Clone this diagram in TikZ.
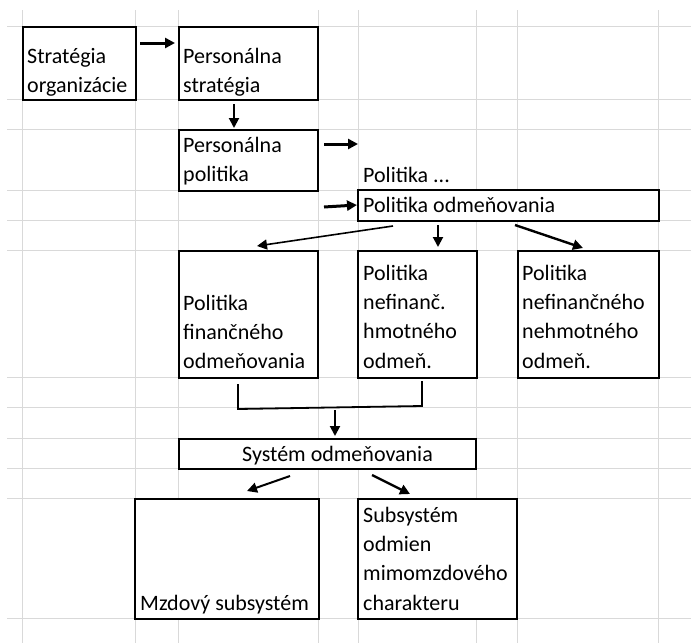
\documentclass[tikz,border=0pt]{standalone}
\usepackage{fontspec}
\setmainfont{Carlito}
\usetikzlibrary{arrows.meta,positioning}
\definecolor{ink}{HTML}{000000}
\definecolor{cellgrid}{HTML}{D9D9D9}

\begin{document}
\begin{tikzpicture}[x=1pt,y=-1pt,
  box/.style={draw=ink,fill=white,line width=2pt,anchor=north west,inner sep=0pt},
  txt/.style={anchor=north west,text width=200pt,align=flush left,inner sep=0pt,text=ink,
    font=\fontsize{22pt}{29.3pt}\selectfont,
    execute at begin node={\noindent\rule{0pt}{18pt}}},
  arr/.style={draw=ink,line width=2pt,-{Triangle[length=10pt,width=10pt]}},
  arrthick/.style={arr,line width=3pt},
  arrthin/.style={arr,line width=1.6pt},
  bracket/.style={draw=ink,line width=1.8pt}]
\useasboundingbox (0,0) rectangle (691,643);
\fill[white] (0,0) rectangle (691,643);
% sheet grid
\foreach \y in {26,99,129,190,220,250,377,407,438,468,498,618}
  \draw[cellgrid,line width=1pt] (7,\y) -- (691,\y);
\foreach \x in {22,135,178,318,358,476,517,658}
  \draw[cellgrid,line width=1pt] (\x,10) -- (\x,643);

% boxes
\node[box,minimum width=113pt,minimum height=73pt] (strat) at (22,26) {};
\node[box,minimum width=139pt,minimum height=73pt] (pstrat) at (178,26) {};
\node[box,minimum width=139pt,minimum height=61pt] (ppol) at (178,129) {};
\node[box,minimum width=301pt,minimum height=31pt] (podm) at (357,189) {};
\node[box,minimum width=139pt,minimum height=127pt] (pfin) at (178,250) {};
\node[box,minimum width=119pt,minimum height=127pt] (phmot) at (357,250) {};
\node[box,minimum width=141pt,minimum height=127pt] (pnehm) at (517,250) {};
\node[box,minimum width=297pt,minimum height=30pt] (sys) at (178,438) {};
\node[box,minimum width=184pt,minimum height=120pt] (mzd) at (134,498) {};
\node[box,minimum width=159pt,minimum height=120pt] (mimo) at (357,498) {};

% texts
\node[txt] (strat-t) at ([shift={(5,19)}]strat.north west) {Stratégia\\organizácie};
\node[txt] (pstrat-t) at ([shift={(5,19)}]pstrat.north west) {Personálna\\stratégia};
\node[txt] (ppol-t) at ([shift={(5,5)}]ppol.north west) {Personálna\\politika};
\node[txt] (dots) at ([shift={(6,-25)}]podm.north west) {Politika ...};
\node[txt] (podm-t) at ([shift={(6,5)}]podm.north west) {Politika odmeňovania};
\node[txt] (pfin-t) at ([shift={(5,42)}]pfin.north west) {Politika\\finančného\\odmeňovania};
\node[txt] (phmot-t) at ([shift={(6,12)}]phmot.north west) {Politika\\nefinanč.\\hmotného\\odmeň.};
\node[txt] (pnehm-t) at ([shift={(5,12)}]pnehm.north west) {Politika\\nefinančného\\nehmotného\\odmeň.};
\node[txt] (sys-t) at ([shift={(64,5)}]sys.north west) {Systém odmeňovania};
\node[txt] (mzd-t) at ([shift={(6,94)}]mzd.north west) {Mzdový subsystém};
\node[txt] (mimo-t) at ([shift={(6,6)}]mimo.north west) {Subsystém\\odmien\\mimomzdového\\charakteru};

% arrows
\draw[arrthick] ([shift={(3,17)}]strat.north east) -- ([shift={(-3,17)}]pstrat.north west);
\draw[arr] ([shift={(56,3)}]pstrat.south west) -- ([shift={(56,-1)}]ppol.north west);
\draw[arrthick] ([shift={(5,15)}]ppol.north east) -- ([shift={(-5,-20)}]dots.north west);
\draw[arrthick] ([shift={(5,15)}]ppol.south east) -- ([shift={(0,16)}]podm.north west);
\draw[arrthin] ([shift={(36,4)}]podm.south west) -- ([shift={(79,-4)}]pfin.north west);
\draw[arr] ([shift={(81,3)}]podm.south west) -- ([shift={(81,-3)}]phmot.north west);
\draw[arr,line width=2.4pt] ([shift={(158,3)}]podm.south west) -- ([shift={(66,-2)}]pnehm.north west);
\draw[bracket] ([shift={(60,5)}]pfin.south west) -- ++(0,25)
  -- ([shift={(65,27)}]phmot.south west) -- ++(0,-25);
\draw[arr] ([shift={(157,-28)}]sys.north west) -- ([shift={(157,-2)}]sys.north west);
\draw[arr] ([shift={(112,6)}]sys.south west) -- ([shift={(113,-7)}]mzd.north west);
\draw[arr,line width=2.4pt] ([shift={(194,5)}]sys.south west) -- ([shift={(53,-4)}]mimo.north west);
\end{tikzpicture}
\end{document}
